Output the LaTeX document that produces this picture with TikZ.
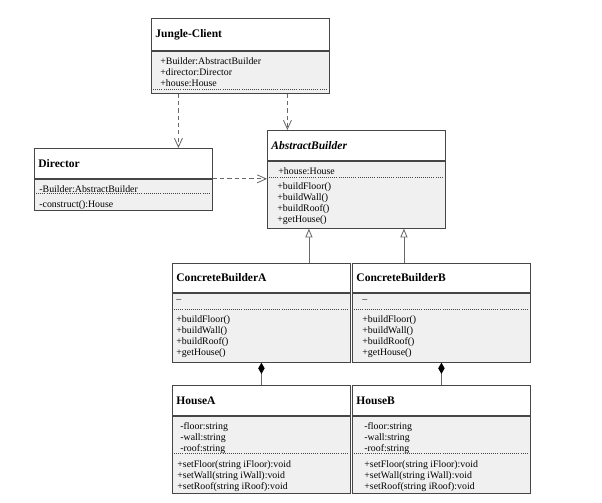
\documentclass[tikz,border=0pt]{standalone}
\usepackage{fontspec}
\setmainfont{Liberation Serif}
\usetikzlibrary{arrows.meta}
\definecolor{umlline}{RGB}{70,70,70}
\definecolor{umlbody}{RGB}{240,240,240}
\definecolor{umlarrow}{RGB}{105,105,105}

\begin{document}
\begin{tikzpicture}[line width=0.6pt,
  head/.style={draw=umlline, fill=white, anchor=north west, inner xsep=0.1cm, text width=4.25cm, align=left, font=\fontsize{8.2}{9}\selectfont\bfseries},
  body/.style={draw=umlline, fill=umlbody, anchor=north, minimum width=4.45cm},
  members/.style={anchor=north west, inner sep=0pt, align=left, font=\fontsize{7}{7.9}\selectfont},
  sep/.style={draw=umlline, line width=0.5pt, dash pattern=on 0.6pt off 0.9pt},
  dep/.style={draw=umlarrow, dash pattern=on 3pt off 2.2pt, -{Straight Barb[length=0.22cm, width=0.2cm]}},
  gen/.style={draw=umlarrow, -{Triangle[open, length=0.22cm, width=0.18cm, fill=white]}},
  comp/.style={draw=umlarrow, {Diamond[length=0.28cm, width=0.16cm, color=black]}-}]
  \fill[white] (0,0) rectangle (15.05,12.55);
  \useasboundingbox (0,0) rectangle (15.05,12.55);

  \node[head, minimum height=0.8cm] (client) at (3.775,12.1) {Jungle-Client};
  \node[body, minimum height=1.05cm] (clientbody) at (client.south) {};
  \node[members] (client-attr) at ([shift={(0.225,-0.15)}]clientbody.north west) {+Builder:AbstractBuilder\\+director:Director\\+house:House};
  \draw[sep] ([shift={(0.05,-0.975)}]clientbody.north west) -- ([shift={(-0.05,-0.975)}]clientbody.north east);

  \node[head, minimum height=0.75cm] (director) at (0.85,8.85) {Director};
  \node[body, minimum height=0.775cm] (directorbody) at (director.south) {};
  \node[members] (director-attr) at ([shift={(0.125,-0.15)}]directorbody.north west) {-Builder:AbstractBuilder};
  \draw[sep] ([shift={(0.05,-0.375)}]directorbody.north west) -- ([shift={(-0.05,-0.375)}]directorbody.north east);
  \node[members] (director-ops) at ([shift={(0.125,-0.525)}]directorbody.north west) {-construct():House};

  \node[head, minimum height=0.75cm] (abstract) at (6.675,9.3) {\itshape AbstractBuilder};
  \node[body, minimum height=1.675cm] (abstractbody) at (abstract.south) {};
  \node[members] (abstract-attr) at ([shift={(0.275,-0.15)}]abstractbody.north west) {+house:House};
  \draw[sep] ([shift={(0.05,-0.425)}]abstractbody.north west) -- ([shift={(-0.05,-0.425)}]abstractbody.north east);
  \node[members] (abstract-ops) at ([shift={(0.25,-0.525)}]abstractbody.north west) {+buildFloor()\\+buildWall()\\+buildRoof()\\+getHouse()};

  \node[head, minimum height=0.725cm] (builda) at (4.3,5.975) {ConcreteBuilderA};
  \node[body, minimum height=1.725cm] (buildabody) at (builda.south) {};
  \node[members] (builda-attr) at ([shift={(0.1,-0.175)}]buildabody.north west) {–};
  \draw[sep] ([shift={(0.05,-0.425)}]buildabody.north west) -- ([shift={(-0.05,-0.425)}]buildabody.north east);
  \node[members] (builda-ops) at ([shift={(0.1,-0.55)}]buildabody.north west) {+buildFloor()\\+buildWall()\\+buildRoof()\\+getHouse()};

  \node[head, minimum height=0.725cm] (buildb) at (8.8,5.975) {ConcreteBuilderB};
  \node[body, minimum height=1.725cm] (buildbbody) at (buildb.south) {};
  \node[members] (buildb-attr) at ([shift={(0.25,-0.175)}]buildbbody.north west) {–};
  \draw[sep] ([shift={(0.05,-0.425)}]buildbbody.north west) -- ([shift={(-0.05,-0.425)}]buildbbody.north east);
  \node[members] (buildb-ops) at ([shift={(0.25,-0.55)}]buildbbody.north west) {+buildFloor()\\+buildWall()\\+buildRoof()\\+getHouse()};

  \node[head, minimum height=0.75cm] (housea) at (4.3,2.925) {HouseA};
  \node[body, minimum height=1.925cm] (houseabody) at (housea.south) {};
  \node[members] (housea-attr) at ([shift={(0.2,-0.15)}]houseabody.north west) {-floor:string\\-wall:string\\-roof:string};
  \draw[sep] ([shift={(0.05,-0.95)}]houseabody.north west) -- ([shift={(-0.05,-0.95)}]houseabody.north east);
  \node[members] (housea-ops) at ([shift={(0.125,-1.1)}]houseabody.north west) {+setFloor(string iFloor):void\\+setWall(string iWall):void\\+setRoof(string iRoof):void};

  \node[head, minimum height=0.75cm] (houseb) at (8.8,2.925) {HouseB};
  \node[body, minimum height=1.925cm] (housebbody) at (houseb.south) {};
  \node[members] (houseb-attr) at ([shift={(0.3,-0.15)}]housebbody.north west) {-floor:string\\-wall:string\\-roof:string};
  \draw[sep] ([shift={(0.05,-0.95)}]housebbody.north west) -- ([shift={(-0.05,-0.95)}]housebbody.north east);
  \node[members] (houseb-ops) at ([shift={(0.3,-1.1)}]housebbody.north west) {+setFloor(string iFloor):void\\+setWall(string iWall):void\\+setRoof(string iRoof):void};

  \draw[dep] ([xshift=-1.55cm]clientbody.south) -- ([xshift=-1.55cm]clientbody.south |- director.north);
  \draw[dep] ([xshift=1.175cm]clientbody.south) -- ([xshift=1.175cm]clientbody.south |- abstract.north);
  \draw[dep] (director.south east) -- (director.south east -| abstract.west);
  \draw[gen] ([xshift=-1.1875cm]abstractbody.south |- builda.north) -- ([xshift=-1.1875cm]abstractbody.south);
  \draw[gen] ([xshift=1.1875cm]abstractbody.south |- buildb.north) -- ([xshift=1.1875cm]abstractbody.south);
  \draw[comp] (buildabody.south) -- (housea.north);
  \draw[comp] (buildbbody.south) -- (houseb.north);
\end{tikzpicture}
\end{document}
